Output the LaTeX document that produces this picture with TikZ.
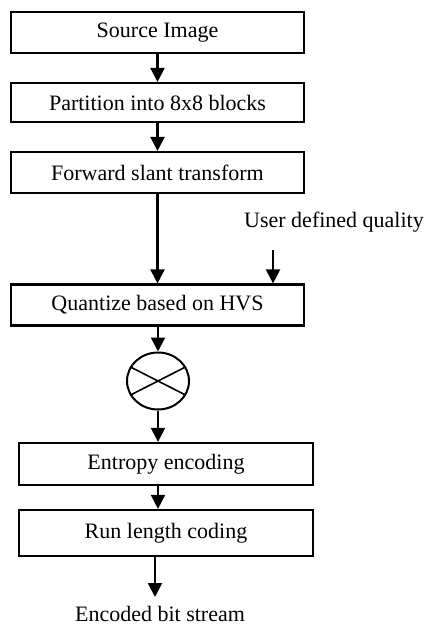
\documentclass[tikz,border=0pt]{standalone}
\usepackage{fontspec}
\setmainfont{Liberation Serif}
\usetikzlibrary{arrows.meta}
\usetikzlibrary{shapes.geometric}

\begin{document}
\begin{tikzpicture}[x=1pt, y=-1pt,
    font=\fontsize{22}{26}\selectfont,
    block/.style={draw, line width=2.2pt, minimum width=293pt, minimum height=41pt, inner sep=0pt},
    flow/.style={line width=2.2pt, -{Triangle[width=14pt,length=14pt]}}]
    \useasboundingbox (0,0) rectangle (425,630);

    % Blocks
    \node[block] (src) at (157.5,32.5) {Source Image};
    \node[block, minimum height=39pt] (part) at (157.5,102.5) {Partition into 8x8 blocks};
    \node[block] (fst) at (157.5,172.5) {Forward slant transform};
    \node[block] (quant) at (157.5,305) {Quantize based on HVS};

    % Multiplier
    \node[draw, ellipse, line width=2pt, minimum width=62pt, minimum height=57pt, inner sep=0pt] (mul) at (158,381) {};
    \draw[line width=1.6pt] (mul.153) -- (mul.-27);
    \draw[line width=1.6pt] (mul.207) -- (mul.27);

    \node[block, minimum width=294pt, minimum height=42pt] (ent) at (166,464) {Entropy encoding};
    \node[block, minimum width=294pt, minimum height=46pt] (rlc) at (166,533) {Run length coding};

    % Inputs and output
    \node (user) at (334,222) {User defined quality};
    \coordinate (uq) at (273,250);
    \coordinate (out) at (155,597);
    \node (bits) at (160,614) {Encoded bit stream};

    % Arrows
    \draw[flow] (src) -- (part);
    \draw[flow] (part) -- (fst);
    \draw[flow] (fst) -- (quant);
    \draw[flow] (uq) -- (uq |- quant.north);
    \draw[flow] (quant.south -| mul) -- (mul.north);
    \draw[flow] (mul.south) -- (mul.south |- ent.north);
    \draw[flow] (ent.south -| mul) -- (mul |- rlc.north);
    \draw[flow] (rlc.south -| out) -- (out);
\end{tikzpicture}
\end{document}
